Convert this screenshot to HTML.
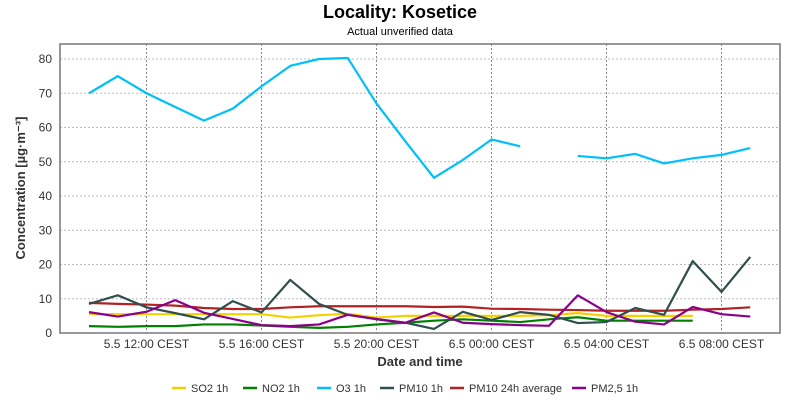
<!DOCTYPE html>
<html><head><meta charset="utf-8"><style>
body{margin:0;background:#fff;font-family:"Liberation Sans",sans-serif}
svg{display:block}
</style></head><body>
<svg id="c" width="800" height="400" xmlns="http://www.w3.org/2000/svg">
<text x="400" y="18" text-anchor="middle" font-size="18" font-weight="bold">Locality: Kosetice</text>
<text x="400" y="35" text-anchor="middle" font-size="11">Actual unverified data</text>
<text transform="translate(25,188) rotate(-90)" text-anchor="middle" font-size="13" font-weight="bold" fill="#333">Concentration [µg·m⁻³]</text>
<text x="420" y="366" text-anchor="middle" font-size="13" font-weight="bold" fill="#333">Date and time</text>
<g id="grid"></g><g id="series"></g><g id="legend"></g>
</svg>
<script>
const yTicks=[0,10,20,30,40,50,60,70,80];
const xTickHours=[2,6,10,14,18,22];
const xTickLabels=["5.5 12:00 CEST","5.5 16:00 CEST","5.5 20:00 CEST","6.5 00:00 CEST","6.5 04:00 CEST","6.5 08:00 CEST"];
const seriesNames=["SO2 1h","NO2 1h","O3 1h","PM10 1h","PM10 24h average","PM2,5 1h"];
const so2=[5.5,5.5,5.5,5.5,5.5,5.5,5.5,4.5,5.2,5.6,4.5,5,5,5,5,5,5.2,5.8,5,5,5,5,null,null];
const no2=[2,1.8,2,2,2.5,2.5,2.2,1.8,1.5,1.8,2.5,3,3.6,4,3.6,3.2,4,4.6,3.6,3.6,3.6,3.6,null,null];
const o3=[70,75,70,66,62,65.5,72,78,80,80.3,67,56,45.3,50.5,56.5,54.5,null,51.7,51,52.3,49.5,51,52,54];
const pm10=[8.5,11,7.5,5.8,4,9.3,6,15.5,8.5,5.3,4,3,1.2,6.2,3.8,6.1,5.3,2.9,3.2,7.3,5.3,21,12,22.2];
const pm10avg=[8.8,8.5,8.3,8,7.3,7,7,7.5,7.8,7.8,7.8,7.8,7.6,7.7,7.1,7,6.8,6.7,6.5,6.5,6.5,6.8,7,7.5];
const pm25=[6.1,4.8,6.2,9.6,5.9,4.1,2.3,2,2.5,5.3,4.1,3,6,3,2.6,2.3,2.1,11,6.1,3.3,2.5,7.6,5.5,4.8];
const colors=["#f5d000","#008000","#00bfff","#2f4f4f","#b22222","#8b008b"];
const L=60,R=780,T=44,B=333;
const x=i=>89+28.75*i;
const y=v=>B-v*3.425;
const NS="http://www.w3.org/2000/svg";
function mk(tag,attrs,parent){const e=document.createElementNS(NS,tag);for(const k in attrs)e.setAttribute(k,attrs[k]);parent.appendChild(e);return e;}
const g=document.getElementById('grid'),s=document.getElementById('series'),lg=document.getElementById('legend');
yTicks.forEach(v=>{
 if(v>0){const l=mk('line',{x1:L,x2:R,y1:y(v),y2:y(v),stroke:'#bbb','stroke-dasharray':'2,2'},g);
 
 }
 const t=mk('text',{x:L-8,y:y(v)+4,'text-anchor':'end','font-size':12,fill:'#333'},g);t.textContent=v;
 
 
});
xTickHours.forEach((h,k)=>{
 const l=mk('line',{x1:x(h),x2:x(h),y1:T,y2:B,stroke:'#888','stroke-dasharray':'2,2'},g);
 
 
 const t=mk('text',{x:x(h),y:348,'text-anchor':'middle','font-size':12,fill:'#333'},g);t.textContent=xTickLabels[k];
 
 
});
const fr=mk('rect',{x:L,y:T,width:R-L,height:B-T,fill:'none',stroke:'#777','stroke-width':1.5},g);


const data=[so2,no2,o3,pm10,pm10avg,pm25];
const order=[4,0,1,2,3,5];
order.forEach(si=>{
 const arr=data[si];let d='',pen=false;
 arr.forEach((v,i)=>{if(v==null){pen=false;return;}d+=(pen?'L':'M')+x(i)+' '+y(v)+' ';pen=true;});
 const p=mk('path',{d:d,fill:'none',stroke:colors[si],'stroke-width':2.2,'stroke-linejoin':'round'},s);
 
 
});
const lx=[172,243,317,380,450,572];
seriesNames.forEach((n,i)=>{
 const gg=mk('g',{},lg);
 
 
 mk('line',{x1:lx[i],x2:lx[i]+14,y1:388,y2:388,stroke:colors[i],'stroke-width':2.5},gg);
 const t=mk('text',{x:lx[i]+19,y:392,'font-size':11,fill:'#333'},gg);t.textContent=n;
});
</script>
</body></html>
